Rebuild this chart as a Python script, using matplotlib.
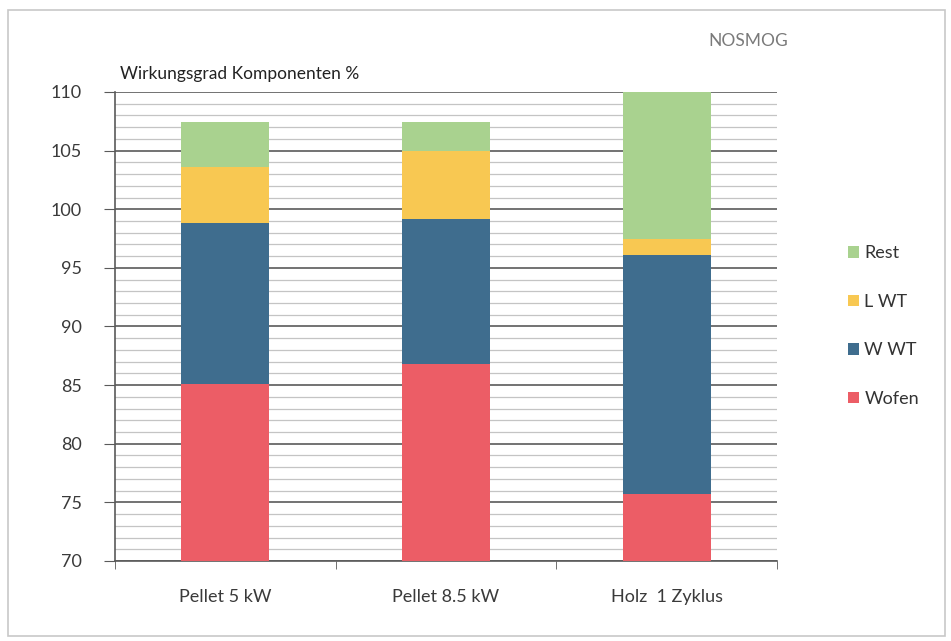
import matplotlib
matplotlib.use("Agg")
import matplotlib.pyplot as plt
from matplotlib.patches import Rectangle
from matplotlib.ticker import MultipleLocator
import numpy as np

plt.rcParams['font.family'] = ['Lato', 'DejaVu Sans']

categories = ["Pellet 5 kW", "Pellet 8.5 kW", "Holz  1 Zyklus"]
series_names = ["Wofen", "W WT", "L WT", "Rest"]
wofen = [85.1, 86.8, 75.7]
w_wt = [13.7, 12.4, 20.4]
l_wt = [4.8, 5.8, 1.4]
rest = [3.8, 2.4, 13.0]
colors = ["#EC5D66", "#3F6D8E", "#F8C852", "#A9D28F"]
y_ticks = [70, 75, 80, 85, 90, 95, 100, 105, 110]

fig = plt.figure(figsize=(9.51, 6.41), dpi=100)
fig.patch.set_facecolor("white")
# outer frame
fig.add_artist(Rectangle((8/951, 1 - 636/641), 937/951, 626/641, transform=fig.transFigure,
                         fill=False, edgecolor="#c8c8c8", lw=1.2))

ax = fig.add_axes([115/951, 1 - 561/641, 662/951, 469/641])
x = np.arange(len(categories))
bottom = np.zeros(len(categories))
handles = []
for name, vals, c in zip(series_names, [wofen, w_wt, l_wt, rest], colors):
    b = ax.bar(x, vals, width=0.4, bottom=bottom, color=c, label=name, zorder=3)
    handles.append(b)
    bottom += np.array(vals)

ax.set_ylim(70, 110)
ax.set_xlim(-0.5, 2.5)
ax.yaxis.set_major_locator(MultipleLocator(5))
ax.yaxis.set_minor_locator(MultipleLocator(1))
ax.set_yticks(y_ticks)
ax.grid(axis="y", which="major", color="#5a5a5a", lw=1.2, zorder=1)
ax.grid(axis="y", which="minor", color="#c4c4c4", lw=0.9, zorder=0)
ax.tick_params(axis="y", which="major", length=8, color="#5a5a5a", labelsize=13, labelcolor="#3a3a3a", pad=16)
ax.tick_params(axis="y", which="minor", length=0)
ax.set_xticks(x)
ax.set_xticklabels(categories)
ax.tick_params(axis="x", which="major", length=0, labelsize=13, labelcolor="#3a3a3a", pad=20)
ax.set_xticks([-0.5, 0.5, 1.5, 2.5], minor=True)
ax.tick_params(axis="x", which="minor", length=6, color="#5a5a5a")
for s in ["top", "right"]:
    ax.spines[s].set_visible(False)
ax.spines["left"].set_color("#5a5a5a")
ax.spines["bottom"].set_color("#5a5a5a")
ax.spines["left"].set_linewidth(1.2)
ax.spines["bottom"].set_linewidth(1.2)

fig.text(120/951, 1 - 74/641, "Wirkungsgrad Komponenten %", fontsize=12.5, color="#222222", va="center", ha="left")
fig.text(748/951, 1 - 41/641, "NOSMOG", fontsize=12.5, color="#7a7a7a", va="center", ha="center")

leg = ax.legend(handles[::-1], series_names[::-1], loc="center left", bbox_to_anchor=(832/951, 1 - 326/641),
                bbox_transform=fig.transFigure, frameon=False, fontsize=13, handlelength=0.6,
                handleheight=0.6, handletextpad=0.3, labelspacing=1.8)
for t in leg.get_texts():
    t.set_color("#333333")

fig.savefig("out.png", dpi=100, facecolor="white")
